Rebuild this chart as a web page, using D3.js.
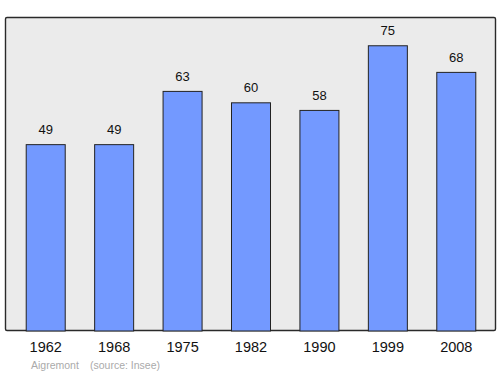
<!DOCTYPE html>
<html><head><meta charset="utf-8">
<script src="https://cdn.jsdelivr.net/npm/d3@7"></script>
<style>html,body{margin:0;padding:0;background:#fff;}</style>
</head><body>
<script>
const years = ["1962","1968","1975","1982","1990","1999","2008"];
const population = [49,49,63,60,58,75,68];
const town = "Aigremont";
const source = "(source: Insee)";

const W = 500, H = 374;
const svg = d3.select("body").append("svg").attr("width", W).attr("height", H)
  .style("font-family", "'Liberation Sans', Arial, sans-serif");

const frame = {x0: 5.5, y0: 17.5, x1: 495.5, y1: 330.5};
svg.append("rect").attr("x", frame.x0).attr("y", frame.y0)
  .attr("width", frame.x1 - frame.x0).attr("height", frame.y1 - frame.y0)
  .attr("rx", 1.5).attr("fill", "#ebebeb").attr("stroke", "#2a2a2a").attr("stroke-width", 1.4);

const x = d3.scaleBand().domain(years).range([11, 490]).paddingInner(0.43).paddingOuter(0.215);
const y = d3.scaleLinear().domain([0, 82.3]).range([330.5, 17.5]);

svg.selectAll("rect.bar").data(years).join("rect").attr("class", "bar")
  .attr("x", d => x(d) + 0.5).attr("width", x.bandwidth())
  .attr("y", (d, i) => y(population[i]) + 0.5)
  .attr("height", (d, i) => y(0) - y(population[i]))
  .attr("fill", "#7399ff").attr("stroke", "#222").attr("stroke-width", 1);

svg.selectAll("text.val").data(years).join("text").attr("class", "val")
  .attr("x", d => x(d) + x.bandwidth() / 2 + 0.5)
  .attr("y", (d, i) => y(population[i]) - 10)
  .attr("text-anchor", "middle").attr("font-size", 13).attr("fill", "#111")
  .text((d, i) => population[i]);

svg.selectAll("text.year").data(years).join("text").attr("class", "year")
  .attr("x", d => x(d) + x.bandwidth() / 2 + 0.5)
  .attr("y", 352)
  .attr("text-anchor", "middle").attr("font-size", 14.5).attr("fill", "#111")
  .text(d => d);

svg.append("text").attr("x", 31).attr("y", 369).attr("font-size", 10.5).attr("fill", "#aaa").text(town);
svg.append("text").attr("x", 90).attr("y", 369).attr("font-size", 10.5).attr("fill", "#aaa").text(source);
</script>
</body></html>
